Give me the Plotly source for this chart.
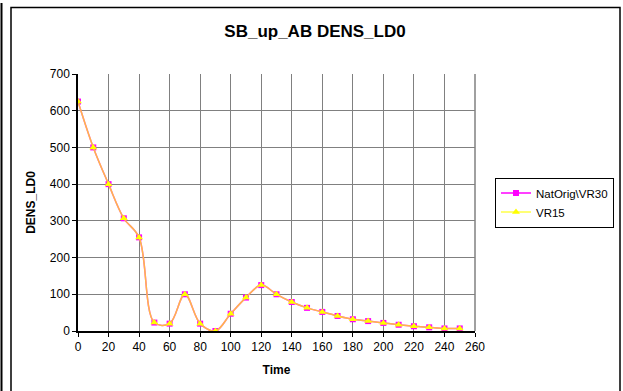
import plotly.graph_objects as go

time = [0, 10, 20, 30, 40, 50, 60, 70, 80, 90, 100, 110, 120, 130, 140, 150,
        160, 170, 180, 190, 200, 210, 220, 230, 240, 250]
nat_orig_vr30 = [625, 500, 400, 307, 255, 23, 20, 100, 20, 0, 47, 91, 125, 100, 79, 63,
                 52, 41, 32, 27, 22, 17, 13, 10, 7, 7]
vr15 = [625, 500, 400, 307, 255, 23, 20, 100, 20, 0, 47, 91, 125, 100, 79, 63,
        52, 41, 32, 27, 22, 17, 13, 10, 7, 7]

FONT = "Liberation Sans, Arial, sans-serif"

fig = go.Figure()
fig.add_trace(go.Scatter(
    x=time, y=nat_orig_vr30, name="NatOrig\\VR30", mode="lines+markers",
    line=dict(color="#FF00FF", width=1.5, shape="spline", smoothing=1),
    marker=dict(symbol="square", size=6, color="#FF00FF"),
))
fig.add_trace(go.Scatter(
    x=time, y=vr15, name="VR15", mode="lines+markers",
    line=dict(color="rgba(255,255,0,0.72)", width=1.5, shape="spline", smoothing=1),
    marker=dict(symbol="triangle-up", size=7, color="#FFFF00"),
))

fig.update_layout(
    width=623, height=391,
    margin=dict(l=78, r=148, t=74, b=60, autoexpand=False),
    paper_bgcolor="white", plot_bgcolor="white",
    font=dict(family=FONT, size=12, color="black"),
    title=dict(text="<b>SB_up_AB DENS_LD0</b>", x=315 / 623, xanchor="center",
               y=1 - 31 / 391, yanchor="middle", font=dict(size=17, family=FONT)),
    showlegend=True,
    legend=dict(x=(495 - 78) / 397, xanchor="left", y=(331 - 202.5) / 257, yanchor="middle",
                bordercolor="black", borderwidth=1, bgcolor="white",
                font=dict(size=11.5, family=FONT), tracegroupgap=0,
                itemwidth=30),
)
fig.update_xaxes(
    range=[0, 260], dtick=20, tick0=0, showgrid=True, gridcolor="#808080", gridwidth=1,
    showline=True, linecolor="black", linewidth=1.5, mirror=False,
    ticks="outside", ticklen=4, tickcolor="black", zeroline=False,
    tickfont=dict(size=12), automargin=False,
    title=dict(text="<b>Time</b>", font=dict(size=12, family=FONT), standoff=12),
)
fig.update_yaxes(
    range=[0, 700], dtick=100, tick0=0, showgrid=True, gridcolor="#808080", gridwidth=1,
    showline=True, linecolor="black", linewidth=1.5,
    ticks="outside", ticklen=4, tickcolor="black", zeroline=False,
    tickfont=dict(size=12), automargin=False,
    title=dict(text="<b>DENS_LD0</b>", font=dict(size=12, family=FONT), standoff=12),
)
# right plot border (gray)
fig.add_shape(type="line", xref="paper", yref="paper", x0=1, x1=1, y0=0, y1=1,
              line=dict(color="#808080", width=1.5))
# outer chart border
fig.add_shape(type="rect", xref="paper", yref="paper",
              x0=(11 - 78) / 397, x1=(620 - 78) / 397,
              y0=(331 - 400) / 257, y1=(331 - 7.5) / 257,
              line=dict(color="black", width=1.5), layer="below")
fig.add_shape(type="line", xref="paper", yref="paper",
              x0=(1.5 - 78) / 397, x1=(1.5 - 78) / 397,
              y0=(331 - 400) / 257, y1=(331 - 3) / 257,
              line=dict(color="black", width=2))

fig.write_html("out.html", config={"displayModeBar": False},
               post_script="document.body.style.margin='0px';")
